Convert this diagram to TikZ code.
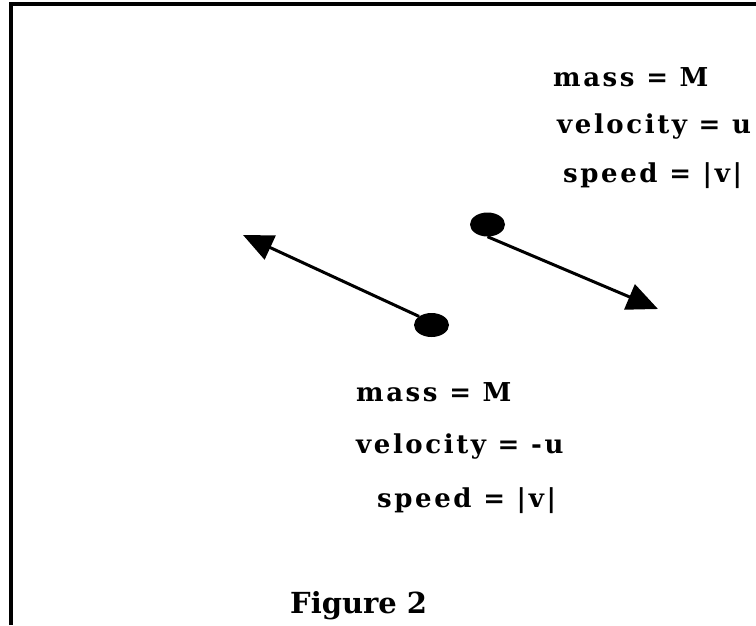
\documentclass[tikz,border=0pt]{standalone}
\usepackage{fontspec}
\setmainfont{DejaVu Serif}
\usetikzlibrary{shapes.geometric,arrows.meta}
\begin{document}
\begin{tikzpicture}[x=1pt,y=-1pt,
  frameline/.style={line width=4pt},
  label/.style={anchor=base west,inner sep=0pt,font=\fontsize{26}{30}\selectfont\bfseries\addfontfeature{LetterSpace=10}},
  caption/.style={anchor=base west,inner sep=0pt,font=\fontsize{29}{34}\selectfont\bfseries},
  ball/.style={ellipse,fill=black,inner sep=0pt,minimum width=35pt,minimum height=24pt},
  motion/.style={line width=3pt}
]
\useasboundingbox (0,0) rectangle (756,625);
% frame
\draw[frameline] (11,625) -- (11,4) -- (756,4);
% balls
\node[ball] (dotA) at (487.5,224.5) {};
\node[ball] (dotB) at (431.5,325) {};
\coordinate (tipA) at (658,309);
\coordinate (tipB) at (243,235);
\draw[motion,-{Triangle[length=31pt,width=27pt]}] (dotA.south) -- (tipA);
\draw[motion,-{Triangle[length=30pt,width=26pt]}] (dotB.north west) -- (tipB);
% labels upper
\node[label] (mA) at (553,86) {mass = M};
\node[label] (vA) at (557,133) {velocity = u};
\node[label] (sA) at (563,182) {speed = |v|};
% labels lower
\node[label] (mB) at (356,401) {mass = M};
\node[label] (vB) at (356,453) {velocity = -u};
\node[label] (sB) at (377,507) {speed = |v|};
\node[caption] (fig) at (290,613) {Figure 2};
\end{tikzpicture}
\end{document}
